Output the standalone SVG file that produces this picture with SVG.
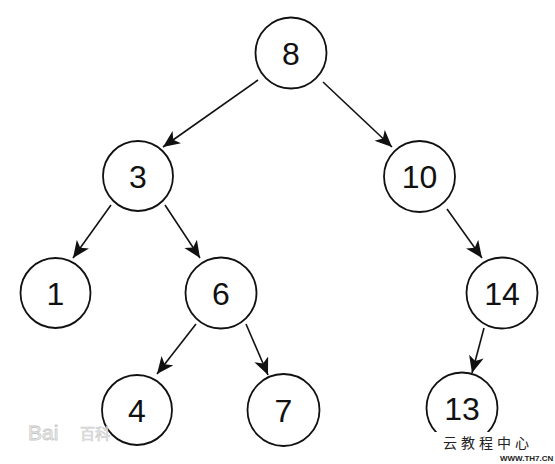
<svg xmlns="http://www.w3.org/2000/svg" width="555" height="464" viewBox="0 0 555 464">
<style>
.n circle{fill:#fff;stroke:#111;stroke-width:1.8}
.n text{font-family:"Liberation Sans",Arial,sans-serif;font-size:32px;fill:#111;text-anchor:middle}
.e line{stroke:#111;stroke-width:1.6;marker-end:url(#ah)}
.wm{font-family:"Liberation Sans","Noto Sans CJK SC",sans-serif}
</style>
<defs>
<marker id="ah" markerUnits="userSpaceOnUse" markerWidth="18" markerHeight="16" refX="17" refY="7.5" orient="auto">
<path d="M0,0 L17,7.5 L0,15 L4.5,7.5 z" fill="#111"/>
</marker>
</defs>
<rect width="555" height="464" fill="#fff"/>
<g id="edges" class="e">
<line x1="258" y1="80" x2="163" y2="147"/>
<line x1="323" y1="82" x2="392" y2="147"/>
<line x1="111" y1="205" x2="73" y2="258"/>
<line x1="165" y1="205" x2="200" y2="258"/>
<line x1="447" y1="209" x2="482" y2="258"/>
<line x1="196" y1="324" x2="157" y2="374"/>
<line x1="246" y1="324" x2="268" y2="375"/>
<line x1="484" y1="328" x2="472" y2="373"/>
</g>
<g id="n8" class="n"><circle cx="291" cy="53" r="35.5"/><text x="291" y="64.5">8</text></g>
<g id="n3" class="n"><circle cx="138" cy="176" r="35"/><text x="138" y="187.5">3</text></g>
<g id="n10" class="n"><circle cx="419.5" cy="176.5" r="35.5"/><text x="419.5" y="188">10</text></g>
<g id="n1" class="n"><circle cx="55.5" cy="293" r="35"/><text x="55.5" y="304.5">1</text></g>
<g id="n6" class="n"><circle cx="221" cy="293" r="35.5"/><text x="221" y="304.5">6</text></g>
<g id="n14" class="n"><circle cx="502" cy="293" r="35.5"/><text x="502" y="304.5">14</text></g>
<g id="n4" class="n"><circle cx="137" cy="410" r="35"/><text x="137" y="421.5">4</text></g>
<g id="n7" class="n"><circle cx="283.5" cy="410" r="36"/><text x="283.5" y="421.5">7</text></g>
<g id="n13" class="n"><circle cx="462" cy="408" r="35.5"/><text x="462" y="419.5">13</text></g>
<g id="watermarks">
<text class="wm" x="28" y="440" font-size="21" fill="#f2f2f2" stroke="#c8c8c8" stroke-width="0.8">Bai</text>
<text class="wm" x="80" y="439" font-size="15" fill="#f2f2f2" stroke="#c8c8c8" stroke-width="0.6">百科</text>
<rect x="425" y="432" width="130" height="32" fill="#fff"/>
<text class="wm" x="443" y="448" font-size="14" fill="#222" letter-spacing="4">云教程中心</text>
<text class="wm" x="500" y="461" font-size="8" font-weight="bold" fill="#222">WWW.TH7.CN</text>
</g>
</svg>
